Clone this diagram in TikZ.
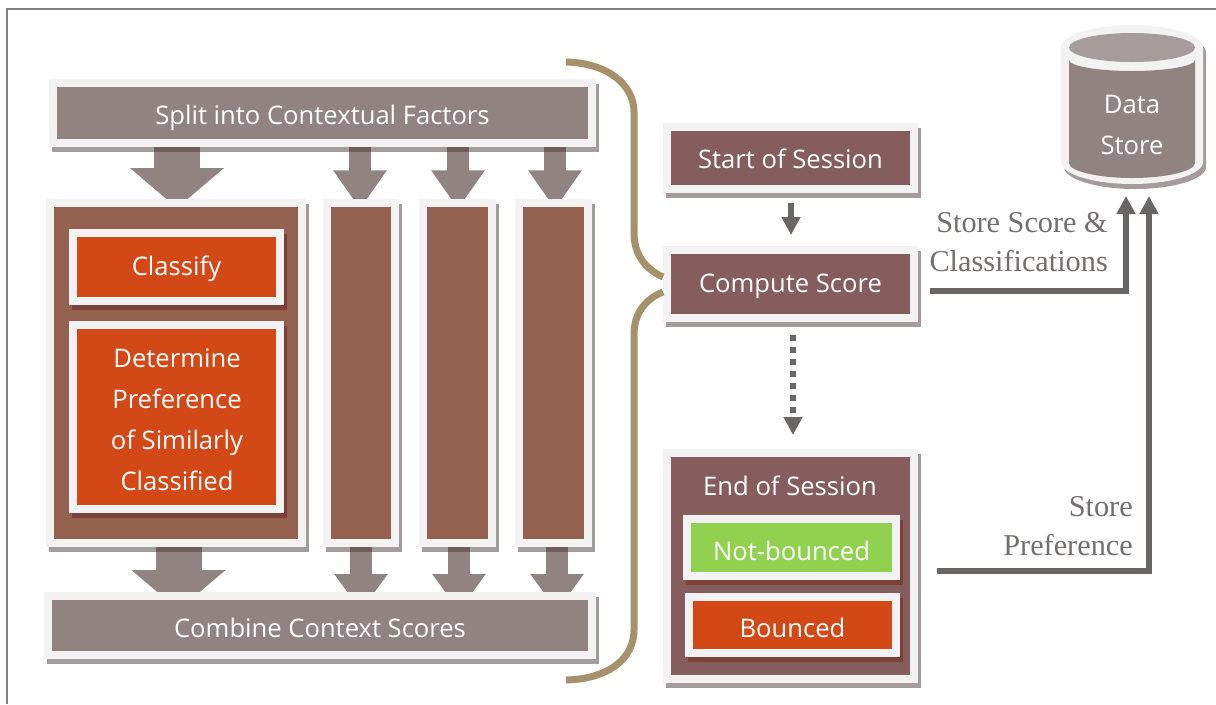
\documentclass[tikz,border=0pt]{standalone}
\usepackage{fontspec}
\setmainfont{Open Sans}
\newfontfamily\labelfont{Liberation Serif}
\usetikzlibrary{arrows.meta,calc}
\definecolor{edgegray}{HTML}{F2F2F2}
\definecolor{taupe}{HTML}{918382}
\definecolor{taupelight}{HTML}{A79C9C}
\definecolor{brownbox}{HTML}{94604F}
\definecolor{sessionbox}{HTML}{855D5D}
\definecolor{orangebox}{HTML}{D34817}
\definecolor{greenbox}{HTML}{92D050}
\definecolor{innershadow}{HTML}{7A4234}
\definecolor{shadowgray}{HTML}{4A3A3A}
\definecolor{linegray}{HTML}{6A6665}
\definecolor{bracecol}{HTML}{A5916B}
\definecolor{framegray}{HTML}{7F7F7F}
\definecolor{labelgray}{HTML}{736F6E}
\pgfdeclarelayer{arrows}
\pgfsetlayers{arrows,main}
\tikzset{
  boxbase/.style={draw=edgegray,line width=6pt,outer sep=3pt,inner sep=0pt,text=white,align=center,
    font=\fontsize{19.2}{30.75}\selectfont},
  baselinedrop/.style={text height={1.5*#1 pt},text depth=0pt},
  taupebox/.style={boxbase,fill=taupe},
  brown/.style={boxbase,fill=brownbox},
  session/.style={boxbase,fill=sessionbox},
  orange/.style={boxbase,fill=orangebox},
  green/.style={boxbase,fill=greenbox},
  softshadow/.style={fill=shadowgray,fill opacity=.5},
  darkshadow/.style={fill=innershadow},
  bigarrow/.style={draw=taupe,line width=34.5pt,-{Triangle[length=30pt,width=69pt]}},
  smallarrow/.style={draw=taupe,line width=16pt,-{Triangle[length=29pt,width=38.25pt]}},
  lowarrow/.style={draw=taupe,line width=16pt,-{Triangle[length=27.75pt,width=38.25pt]}},
  flow/.style={draw=linegray,line width=4.5pt,-{Triangle[length=13.5pt,width=13.5pt]}},
  brace/.style={draw=bracecol,line width=5.25pt},
  sidelabel/.style={text=labelgray,align=right,anchor=east,inner sep=0pt,
    font=\labelfont\fontsize{22.7}{29.25}\selectfont},
}
% style, shadow style, name, x0, y0, x1, y1, text
\newcommand{\bx}[8]{%
  \path[#2] ({#4+3},{#5+5}) rectangle ({#6+3},{#7+5});
  \node[#1,minimum width={(#6-#4-8)*0.75pt},minimum height={(#7-#5-8)*0.75pt}] (#3)
    at ({(#4+#6)/2},{(#5+#7)/2}) {#8};
}
\begin{document}
\begin{tikzpicture}[x=0.75pt,y=-0.75pt]
\useasboundingbox (0,0) rectangle (1216,704);
\begin{pgfonlayer}{arrows}
\fill[white] (0,0) rectangle (1216,704);
\end{pgfonlayer}
\draw[framegray,line width=1.5pt] (7,704) -- (7,9) -- (1216,9);

\bx{taupebox,baselinedrop=11}{softshadow}{split}{49}{79}{596}{147}{Split into Contextual Factors}
\bx{brown}{softshadow}{big}{46}{199}{306}{547}{}
\bx{brown}{softshadow}{colA}{323}{199}{399}{547}{}
\bx{brown}{softshadow}{colB}{419}{199}{496}{547}{}
\bx{brown}{softshadow}{colC}{515}{199}{592}{547}{}
\bx{orange,baselinedrop=8.5}{darkshadow}{classify}{69}{229}{284}{305}{Classify}
\bx{orange}{darkshadow}{determine}{69}{321}{284}{513}{}
\node[text=white,align=center,inner sep=0pt,font=\fontsize{19.2}{30.75}\selectfont] (determinetext) at (177,420) {Determine\\Preference\\of Similarly\\Classified};
\bx{taupebox,baselinedrop=11.5}{softshadow}{combine}{44}{592}{596}{659}{Combine Context Scores}

\bx{session,baselinedrop=10}{softshadow}{start}{663}{123}{918}{193}{Start of Session}
\bx{session,baselinedrop=8.5}{softshadow}{compute}{663}{246}{918}{322}{Compute Score}
\bx{session}{softshadow}{endbox}{663}{449}{918}{683}{}
\node[text=white,inner sep=0pt,font=\fontsize{19.2}{22}\selectfont] (endtitle) at (790,486) {End of Session};
\bx{green,baselinedrop=12.5}{darkshadow}{notbounced}{683}{515}{900}{580}{Not-bounced}
\bx{orange,baselinedrop=12}{darkshadow}{bounced}{685}{593}{900}{657}{Bounced}

% data store
\path[softshadow,shift={(3,5)}] (1061,48) .. controls (1061,35) and (1093,25) .. (1132,25) .. controls (1171,25) and (1203,35) .. (1203,48) -- (1203,162) .. controls (1203,174) and (1171,184) .. (1132,184) .. controls (1093,184) and (1061,174) .. (1061,162) -- cycle;
\fill[edgegray] (1061,48) .. controls (1061,35) and (1093,25) .. (1132,25) .. controls (1171,25) and (1203,35) .. (1203,48) -- (1203,162) .. controls (1203,174) and (1171,184) .. (1132,184) .. controls (1093,184) and (1061,174) .. (1061,162) -- cycle;
\fill[taupe] (1195,60) .. controls (1195,66) and (1167,71) .. (1132,71) .. controls (1097,71) and (1069,66) .. (1069,60) -- (1069,163) .. controls (1069,171) and (1097,178) .. (1132,178) .. controls (1167,178) and (1195,171) .. (1195,163) -- cycle;
\fill[taupelight] (1132,47.5) circle[x radius=63,y radius=14.5];
\node[minimum width=106.5pt,minimum height=119.25pt,inner sep=0pt,outer sep=0pt] (store) at (1132,104.5) {};
\node[text=white,align=center,inner sep=0pt,font=\fontsize{19.2}{30.75}\selectfont] (storetext) at (1132,125) {Data\\Store};

% labels
\node[sidelabel] (lblscore) at (1108,242) {Store Score \&\\Classifications};
\node[sidelabel] (lblpref) at (1133,526) {Store\\Preference};

% brace
\draw[brace] (566,62) .. controls (608,63) and (634,85) .. (634,112) -- (634,233) .. controls (634,254) and (645,269) .. ($(compute.west)+(0,-7)$);
\draw[brace] ($(compute.west)+(0,8)$) .. controls (645,299) and (634,314) .. (634,334) -- (634,630) .. controls (634,659) and (608,679) .. (566,680);

\begin{pgfonlayer}{arrows}
\draw[bigarrow] ($(split.south -| big.north)+(1,0)$) -- ($(big.north)+(1,9)$);
\draw[smallarrow] ($(split.south -| colA.north)+(-1,0)$) -- ($(colA.north)+(-1,10)$);
\draw[smallarrow] ($(split.south -| colB.north)+(0.5,0)$) -- ($(colB.north)+(0.5,10)$);
\draw[smallarrow] ($(split.south -| colC.north)+(1.5,0)$) -- ($(colC.north)+(1.5,10)$);
\draw[bigarrow] ($(big.south)+(2.5,0)$) -- ($(combine.north -| big.south)+(2.5,18)$);
\draw[lowarrow] (colA.south) -- ($(combine.north -| colA.south)+(0,19)$);
\draw[lowarrow] ($(colB.south)+(1.5,0)$) -- ($(combine.north -| colB.south)+(1.5,19)$);
\draw[lowarrow] ($(colC.south)+(3.5,0)$) -- ($(combine.north -| colC.south)+(3.5,19)$);
\end{pgfonlayer}

\draw[flow] ($(start.south)+(0.5,10)$) -- ($(compute.north)+(0.5,-11)$);
\draw[flow,dash pattern=on 4.5pt off 4.5pt] ($(compute.south)+(2.5,13)$) -- ($(endbox.north)+(2.5,-14)$);
\draw[flow] ($(compute.east)+(12,7)$) -| ($(store.south)+(-6,12)$);
\draw[flow] ($(endbox.east)+(19,4.5)$) -| ($(store.south)+(17,12)$);
\end{tikzpicture}
\end{document}
